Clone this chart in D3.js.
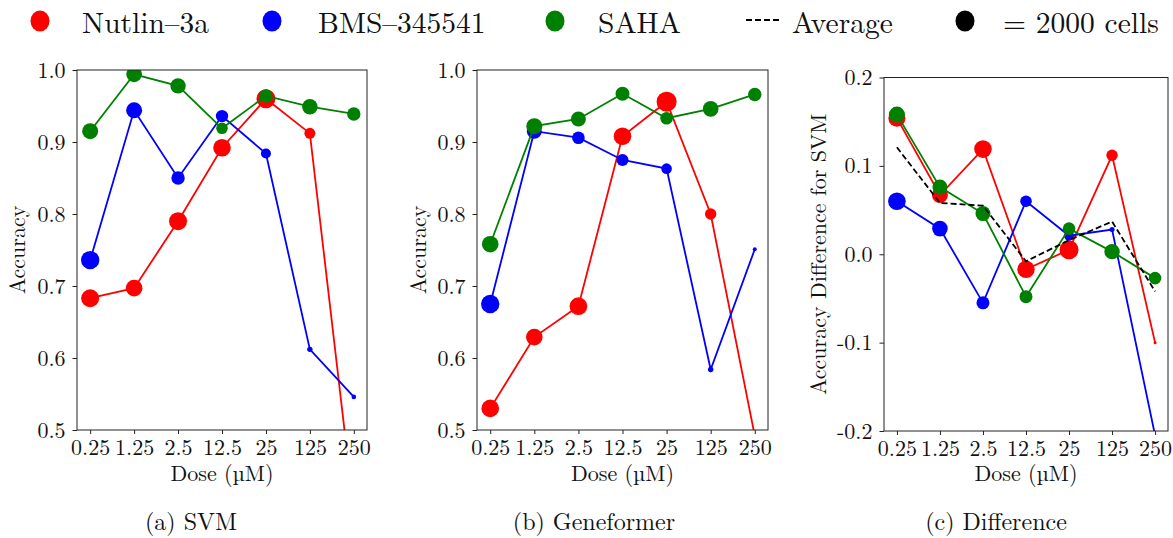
<!DOCTYPE html>
<html>
<head>
<meta charset="utf-8">
<script src="https://cdn.jsdelivr.net/npm/d3@7"></script>
<style>
  html, body { margin: 0; padding: 0; background: #fff; }
</style>
</head>
<body>
<svg id="chart" width="1173" height="538"></svg>
<script>
// ---------------- data ----------------
const doses = ["0.25", "1.25", "2.5", "12.5", "25", "125", "250"];

// (a) SVM accuracy
const svmNutlin = [0.683, 0.697, 0.790, 0.892, 0.960, 0.912, 0.389];
const svmBMS    = [0.736, 0.944, 0.850, 0.936, 0.884, 0.612, 0.546];
const svmSAHA   = [0.915, 0.994, 0.978, 0.919, 0.964, 0.949, 0.939];
// cells behind each SVM point (marker area)
const svmNutlinCells = [1620, 1380, 1620, 1550, 1800, 605, 45];
const svmBMSCells    = [1690, 1280, 900, 770, 500, 146, 106];
const svmSAHACells   = [1280, 1220, 1190, 670, 900, 1190, 900];

// (b) Geneformer accuracy
const genNutlin = [0.530, 0.629, 0.672, 0.908, 0.956, 0.800, 0.492];
const genBMS    = [0.675, 0.915, 0.906, 0.875, 0.863, 0.584, 0.751];
const genSAHA   = [0.758, 0.922, 0.932, 0.967, 0.933, 0.946, 0.966];
const genNutlinCells = [1550, 1380, 1550, 1550, 2000, 650, 45];
const genBMSCells    = [1690, 1125, 795, 720, 560, 146, 80];
const genSAHACells   = [1380, 1280, 1125, 980, 795, 1220, 900];

// (c) Difference (SVM - Geneformer)
const diffNutlin  = [0.154, 0.067, 0.119, -0.017, 0.005, 0.112, -0.100];
const diffBMS     = [0.060, 0.029, -0.055, 0.060, 0.021, 0.028, -0.205];
const diffSAHA    = [0.158, 0.076, 0.046, -0.048, 0.029, 0.003, -0.027];
const diffAverage = [0.121, 0.058, 0.055, -0.008, 0.016, 0.037, -0.042];
const diffNutlinCells = [1445, 1280, 1550, 1510, 1800, 650, 45];
const diffBMSCells    = [1550, 1220, 845, 670, 500, 125, 80];
const diffSAHACells   = [1280, 1125, 1125, 845, 795, 1190, 795];

const accTicks  = [0.5, 0.6, 0.7, 0.8, 0.9, 1.0];
const diffTicks = [-0.2, -0.1, 0.0, 0.1, 0.2];
const legendCells = 2000;

const drugNames = ["Nutlin–3a", "BMS–345541", "SAHA"];
const drugColors = ["#ff0000", "#0000ff", "#008000"];

// ---------------- drawing ----------------
const FONT = "'Latin Modern Roman'";
const svg = d3.select("#chart");
const rScale = d3.scaleSqrt().domain([0, legendCells]).range([0, 10]);

const panels = [
  { box: [77, 367, 70, 430], domain: [0.5, 1.0], ticks: accTicks, ylabel: "Accuracy", labelX: 25, capX: 191,
    caption: "(a) SVM", series: [svmNutlin, svmBMS, svmSAHA], cells: [svmNutlinCells, svmBMSCells, svmSAHACells] },
  { box: [477, 768, 70, 430], domain: [0.5, 1.0], ticks: accTicks, ylabel: "Accuracy", labelX: 426, capX: 594,
    caption: "(b) Geneformer", series: [genNutlin, genBMS, genSAHA], cells: [genNutlinCells, genBMSCells, genSAHACells] },
  { box: [884, 1168, 77.5, 431], domain: [-0.2, 0.2], ticks: diffTicks, ylabel: "Accuracy Difference for SVM", labelX: 826, capX: 996,
    caption: "(c) Difference", series: [diffNutlin, diffBMS, diffSAHA], cells: [diffNutlinCells, diffBMSCells, diffSAHACells],
    average: diffAverage }
];

const fmt = v => { const s = v.toFixed(1); return s === "-0.0" ? "0.0" : s; };

function txt(sel, size) {
  return sel.style("font-family", FONT).style("font-size", size + "px").attr("fill", "#111");
}

panels.forEach((p, i) => {
  const [x0, x1, y0, y1] = p.box;
  const x = d3.scalePoint().domain(doses).range([x0, x1]).padding(0.3);
  const y = d3.scaleLinear().domain(p.domain).range([y1, y0]);
  const g = svg.append("g");

  const clipId = "clip" + i;
  svg.append("clipPath").attr("id", clipId)
    .append("rect").attr("x", x0).attr("y", y0).attr("width", x1 - x0).attr("height", y1 - y0);

  // axes
  const ax = g.append("g").attr("transform", `translate(0,${y1})`)
    .call(d3.axisBottom(x).tickSize(4).tickPadding(5).tickSizeOuter(0));
  const ay = g.append("g").attr("transform", `translate(${x0},0)`)
    .call(d3.axisLeft(y).tickValues(p.ticks).tickFormat(fmt).tickSize(4.5).tickPadding(7).tickSizeOuter(0));
  [ax, ay].forEach(a => {
    a.attr("font-family", null).attr("font-size", null);
    a.select(".domain").remove();
    a.selectAll(".tick line").attr("stroke", "#222").attr("stroke-width", 1);
    txt(a.selectAll(".tick text"), 22);
  });

  const plot = g.append("g").attr("clip-path", `url(#${clipId})`);
  const line = d3.line().x((d, k) => x(doses[k])).y(d => y(d));

  p.series.forEach((vals, s) => {
    plot.append("path").datum(vals).attr("d", line)
      .attr("fill", "none").attr("stroke", drugColors[s]).attr("stroke-width", 1.8);
    plot.selectAll(null).data(vals).enter().append("circle")
      .attr("cx", (d, k) => x(doses[k])).attr("cy", d => y(d))
      .attr("r", (d, k) => rScale(p.cells[s][k]))
      .attr("fill", drugColors[s]);
  });

  if (p.average) {
    plot.append("path").datum(p.average).attr("d", line)
      .attr("fill", "none").attr("stroke", "#000").attr("stroke-width", 1.8)
      .attr("stroke-dasharray", "6,3");
  }

  // frame
  g.append("rect").attr("x", x0).attr("y", y0).attr("width", x1 - x0).attr("height", y1 - y0)
    .attr("fill", "none").attr("stroke", "#222").attr("stroke-width", 1);

  // labels
  txt(g.append("text").attr("x", (x0 + x1) / 2).attr("y", 481).attr("text-anchor", "middle"), 22)
    .text("Dose (µM)");
  txt(g.append("text").attr("transform", `translate(${p.labelX},${(y0 + y1) / 2}) rotate(-90)`)
    .attr("text-anchor", "middle"), 22).text(p.ylabel);
  txt(g.append("text").attr("x", p.capX).attr("y", 530).attr("text-anchor", "middle"), 24)
    .text(p.caption);
});

// ---------------- legend ----------------
const leg = svg.append("g");
const legDots = [
  { cx: 40, color: drugColors[0], tx: 82, label: drugNames[0] },
  { cx: 272, color: drugColors[1], tx: 318, label: drugNames[1] },
  { cx: 555, color: drugColors[2], tx: 598, label: drugNames[2] },
  { cx: 965, color: "#000", tx: 1003, label: "= 2000 cells" }
];
legDots.forEach(d => {
  leg.append("ellipse").attr("cx", d.cx).attr("cy", 21).attr("rx", rScale(legendCells) * 0.95)
    .attr("ry", rScale(legendCells) * 1.05).attr("fill", d.color);
  txt(leg.append("text").attr("x", d.tx).attr("y", 33), 29.5).text(d.label);
});
leg.append("line").attr("x1", 746).attr("x2", 781).attr("y1", 20).attr("y2", 20)
  .attr("stroke", "#000").attr("stroke-width", 1.8).attr("stroke-dasharray", "6,3");
txt(leg.append("text").attr("x", 792).attr("y", 33), 29.5).text("Average");
</script>
</body>
</html>
